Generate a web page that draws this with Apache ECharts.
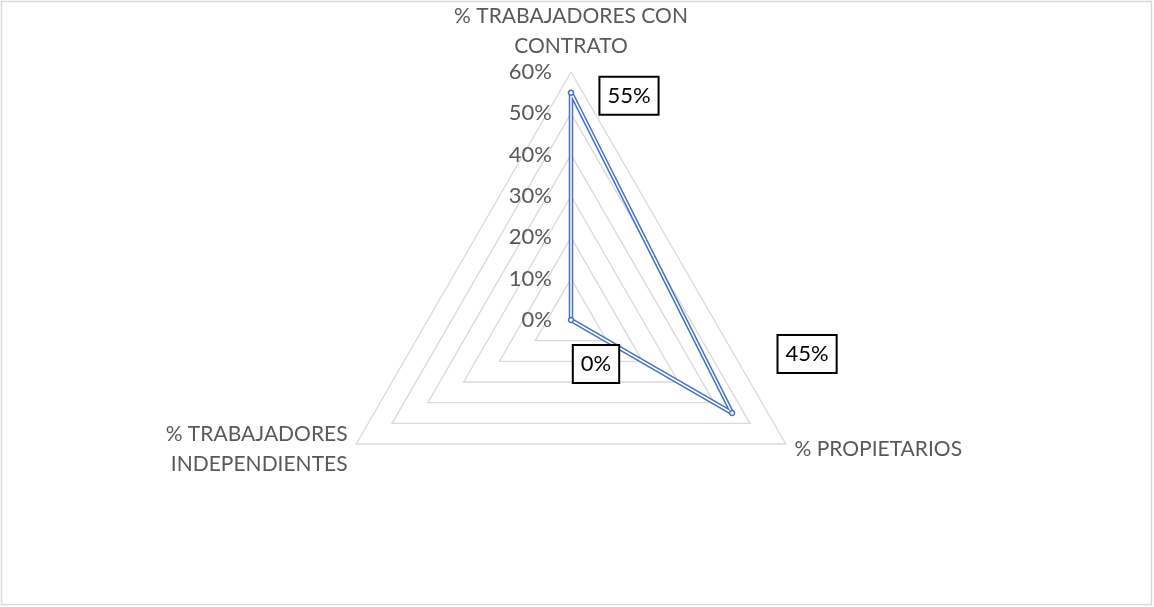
<!DOCTYPE html>
<html>
<head>
<meta charset="utf-8">
<script src="https://cdn.jsdelivr.net/npm/echarts@6/dist/echarts.min.js"></script>
<style>
  html, body { margin: 0; padding: 0; background: #fff; }
  #chart { width: 1154px; height: 607px; }
</style>
</head>
<body>
<div id="chart"></div>
<script>
// Excel draws the radar clockwise, ECharts counter-clockwise, so the
// indicators are listed top, left, right here
const indicators = ['% TRABAJADORES CON\nCONTRATO', '% TRABAJADORES\nINDEPENDIENTES', '% PROPIETARIOS'];
const values = [55, 0, 45];
const maxValue = 60;
// where each data label box sits relative to its point (Excel placement)
const labelOffsets = [[58, 3], [25, 44], [75, -59]];

const txt = '#595959';
const blue = '#4472C4';
const font = 'Lato, "Noto Sans", sans-serif';

const chart = echarts.init(document.getElementById('chart'));

const option = {
  backgroundColor: '#fff',
  animation: false,
  radar: {
    center: [571, 320],
    radius: 248,
    startAngle: 90,
    splitNumber: 6,
    shape: 'polygon',
    nameGap: 10,
    axisName: { color: txt, fontSize: 21, fontFamily: font, lineHeight: 30 },
    axisLine: { show: false },
    axisTick: { show: false },
    splitArea: { show: false },
    splitLine: { lineStyle: { color: '#d9d9d9', width: 1.3 } },
    axisLabel: { show: false },
    indicator: indicators.map((name, i) => ({
      name: name,
      min: 0,
      max: maxValue,
      axisLabel: i === 0 ? {
        show: true, color: txt, fontSize: 22, fontFamily: font, margin: 19,
        formatter: '{value}%'
      } : { show: false }
    }))
  },
  graphic: [{
    id: 'frame',
    type: 'rect',
    shape: { x: 1.5, y: 1.5, width: 1150, height: 603 },
    style: { fill: 'none', stroke: '#d9d9d9', lineWidth: 1.5 },
    silent: true
  }],
  series: [{
    type: 'radar',
    symbol: 'none',
    lineStyle: { color: blue, width: 4.5, join: 'round' },
    data: [{ value: values }]
  }, {
    type: 'radar',
    symbol: 'circle',
    symbolSize: 5,
    itemStyle: { color: '#fff', borderColor: blue, borderWidth: 1.5 },
    lineStyle: { color: '#fff', width: 1.5, join: 'round' },
    data: [{ value: values }]
  }]
};

chart.setOption(option);

// data label boxes, anchored on points from the radar coordinate system
const radar = chart.getModel().getComponent('radar').coordinateSystem;
const labels = values.map((v, i) => {
  const p = radar.dataToPoint(v, i);
  return {
    id: 'lbl' + i,
    type: 'text',
    x: p[0] + labelOffsets[i][0],
    y: p[1] + labelOffsets[i][1],
    z: 100,
    style: {
      text: v + '%',
      fill: '#000',
      font: '22px ' + font,
      align: 'center',
      verticalAlign: 'middle',
      lineHeight: 30,
      backgroundColor: '#fff',
      borderColor: '#000',
      borderWidth: 2,
      padding: [3, 7, 3, 7]
    }
  };
});
chart.setOption({ graphic: labels });
</script>
</body>
</html>
